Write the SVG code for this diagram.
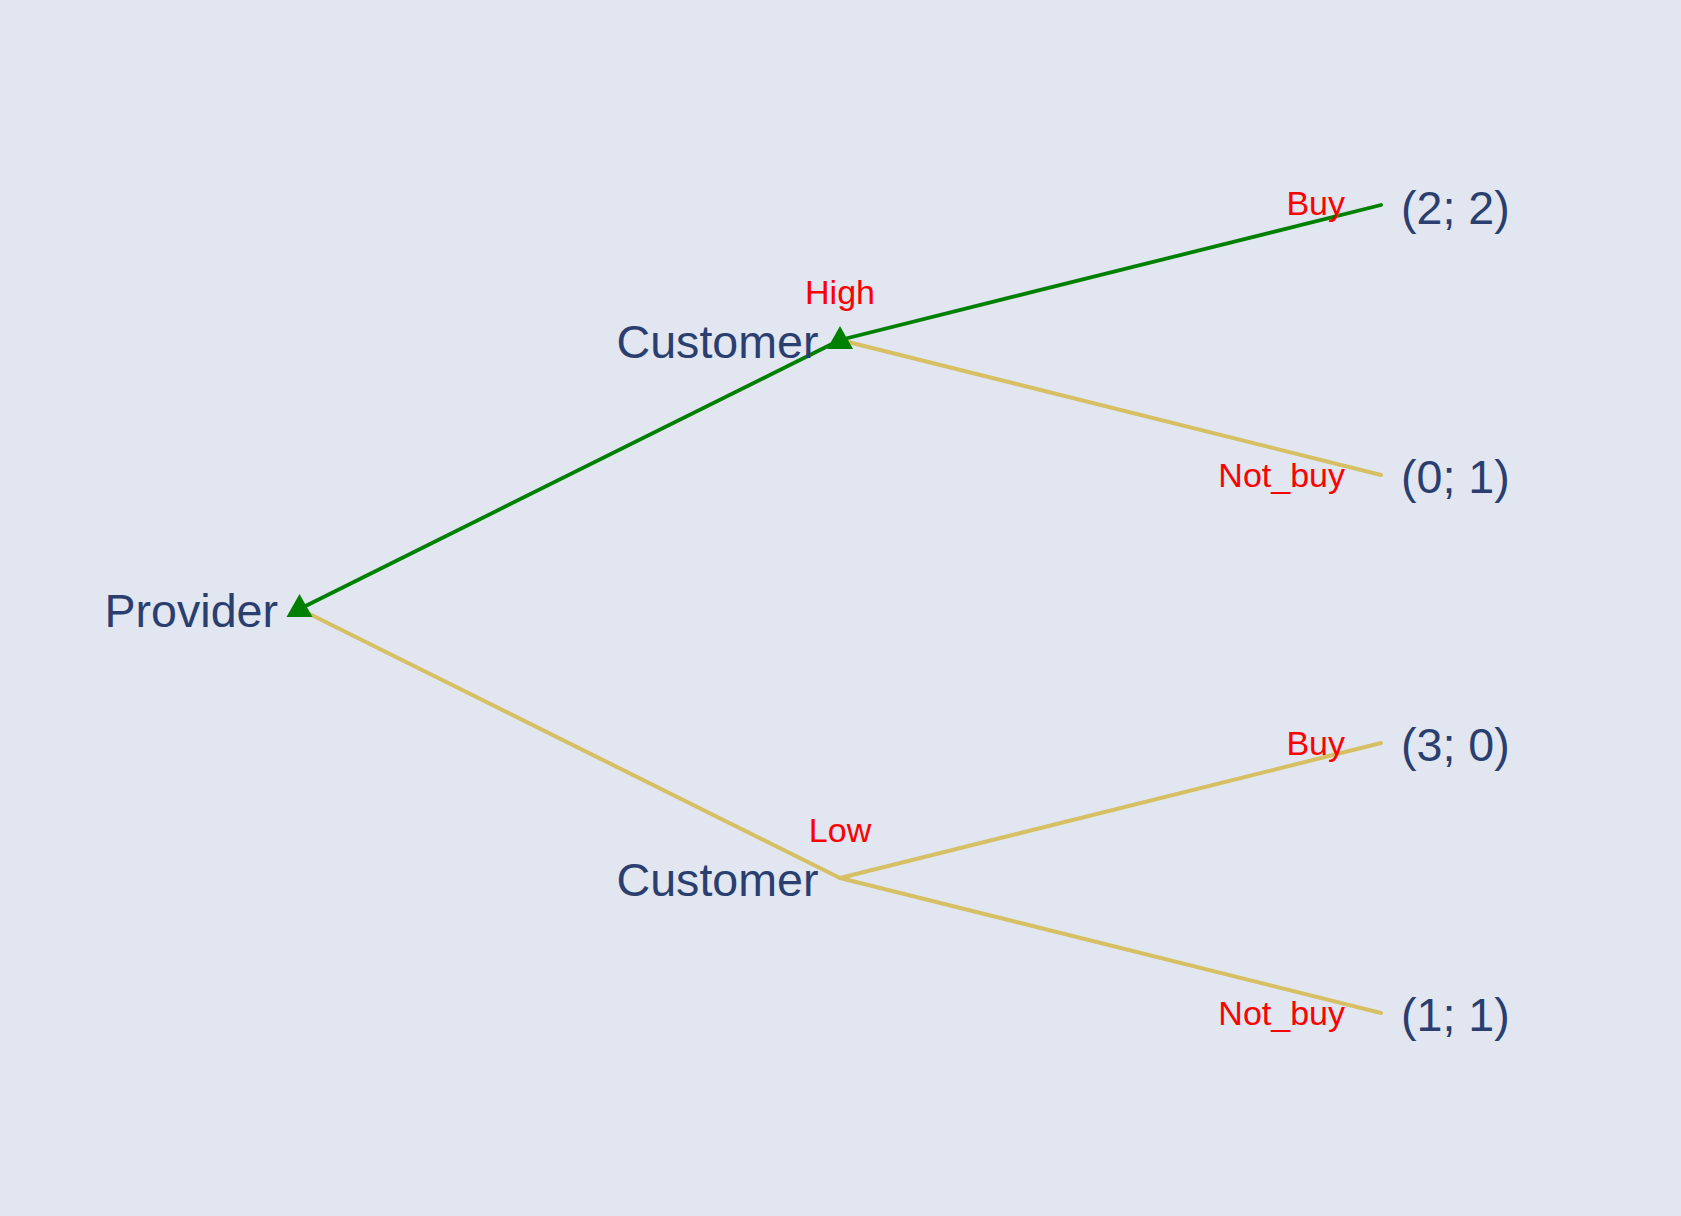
<svg xmlns="http://www.w3.org/2000/svg" width="1681" height="1216" viewBox="0 0 1681 1216">
<style>
.node{font-family:"Liberation Sans",Arial,sans-serif;font-size:46.6px;fill:#2a3f6f}
.lbl{font-family:"Liberation Sans",Arial,sans-serif;font-size:34px;fill:#ff0000}
.pay{font-family:"Liberation Sans",Arial,sans-serif;font-size:46.6px;fill:#2a3f6f}
.y{stroke:#d6c063;stroke-width:4;fill:none;stroke-linecap:round}
.g{stroke:#008000;stroke-width:3.8;fill:none;stroke-linecap:round}
.tri{fill:#008000}
</style>
<rect x="0" y="0" width="1681" height="1216" fill="#e1e6f0"/>
<g id="connectors">
<line class="y" x1="299.5" y1="609" x2="840" y2="878"/>
<line class="y" x1="840" y1="340" x2="1381" y2="475"/>
<line class="y" x1="840" y1="878" x2="1381" y2="743"/>
<line class="y" x1="840" y1="878" x2="1381" y2="1013"/>
<line class="g" x1="299.5" y1="609" x2="840" y2="340"/>
<line class="g" x1="840" y1="340" x2="1381" y2="205"/>
</g>
<g id="edge-labels">
<text class="lbl" x="840" y="304" text-anchor="middle">High</text>
<text class="lbl" x="840" y="842" text-anchor="middle">Low</text>
<text class="lbl" x="1345" y="215" text-anchor="end">Buy</text>
<text class="lbl" x="1345" y="487" text-anchor="end">Not_buy</text>
<text class="lbl" x="1345" y="755" text-anchor="end">Buy</text>
<text class="lbl" x="1345" y="1025" text-anchor="end">Not_buy</text>
</g>
<g id="provider">
<path class="tri" d="M299.5,594 L312.5,617 L286.5,617 Z"/>
<text class="node" x="278" y="627" text-anchor="end">Provider</text>
</g>
<g id="customer-high">
<path class="tri" d="M840,326 L853,349 L827,349 Z"/>
<text class="node" x="818.5" y="358" text-anchor="end">Customer</text>
</g>
<g id="customer-low">
<text class="node" x="818.5" y="896" text-anchor="end">Customer</text>
</g>
<g id="payoff-1"><text class="pay" x="1401" y="224">(2; 2)</text></g>
<g id="payoff-2"><text class="pay" x="1401" y="493">(0; 1)</text></g>
<g id="payoff-3"><text class="pay" x="1401" y="761">(3; 0)</text></g>
<g id="payoff-4"><text class="pay" x="1401" y="1031">(1; 1)</text></g>
</svg>
